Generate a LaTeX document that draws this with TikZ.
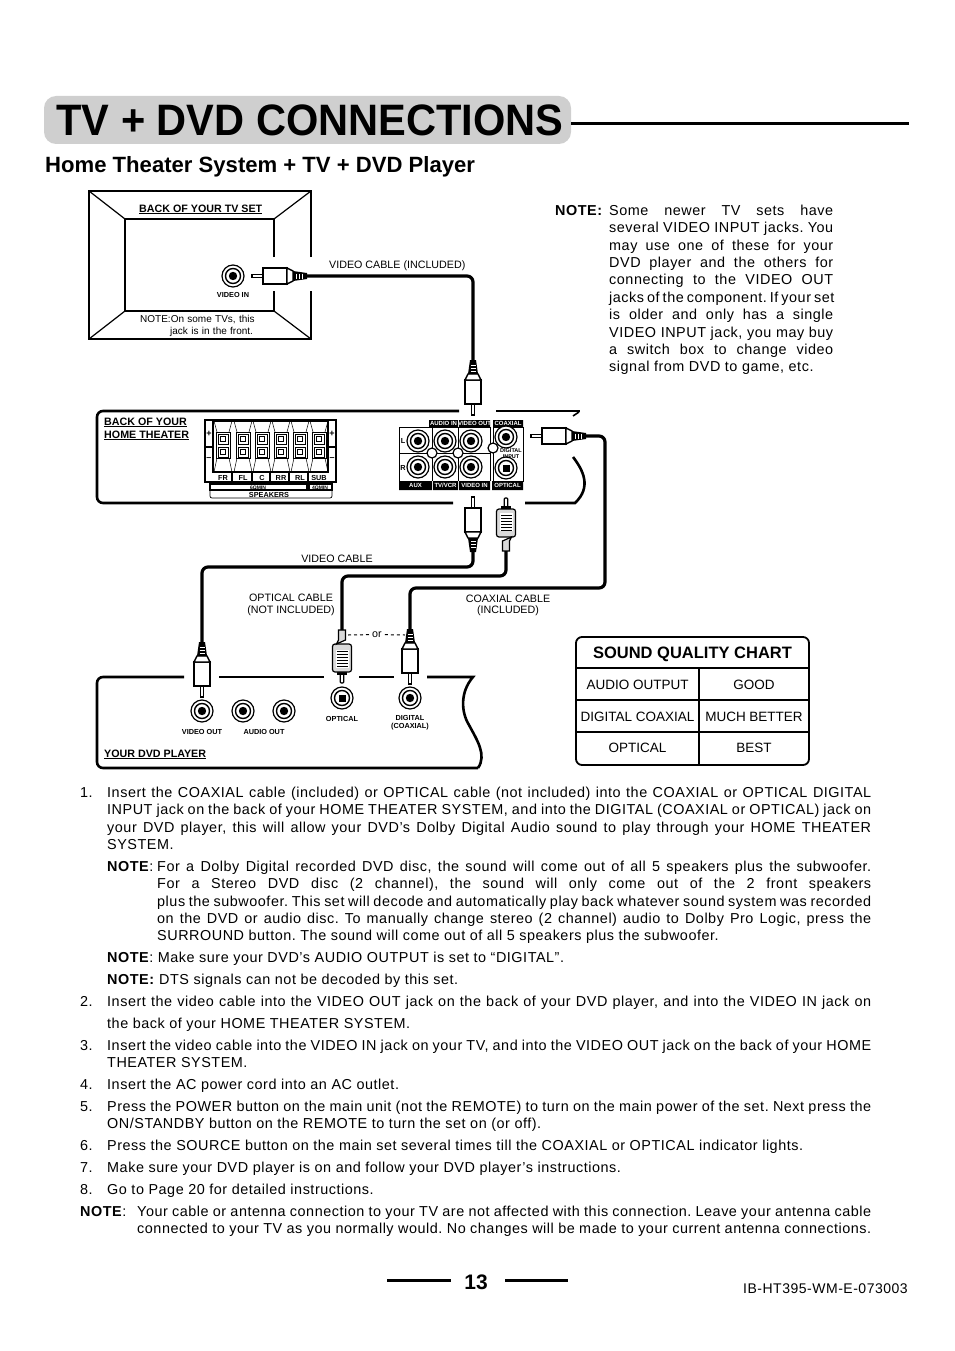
\documentclass[tikz,border=0pt]{standalone}
\usepackage{fontspec}
\setmainfont{Liberation Sans}
\newfontfamily\bodyfont[LetterSpace=3.7]{Liberation Sans}
\definecolor{titlegrey}{HTML}{CFCFCF}
\definecolor{plugshade}{HTML}{D9D9D9}
\tikzset{
  cablewire/.style={line width=3.2pt, rounded corners=6pt},
  panelline/.style={line width=2.6pt, rounded corners=6pt},
  tvline/.style={line width=2.6pt},
  thinline/.style={line width=1.2pt},
  ruleline/.style={line width=3pt},
  cablelabel/.style={font=\fontsize{10.7}{12}\selectfont, inner sep=0pt, align=center},
  tinylabel/.style={font=\fontsize{7.3}{8}\selectfont\bfseries, inner sep=0pt, align=center},
  plainlabel/.style={font=\fontsize{10.7}{12}\selectfont\bfseries, inner sep=0pt, anchor=base west},
  bodytext/.style={font=\fontsize{14.4}{17.4}\bodyfont\frenchspacing, inner sep=0pt, anchor=north west, align=justify, execute at begin node=\strut},
  bodywide/.style={bodytext, font=\fontsize{14.4}{22}\bodyfont\frenchspacing},
  chartcell/.style={font=\fontsize{13.5}{16}\selectfont, inner sep=0pt},
  pics/jackring/.style={code={
    \draw[thinline, fill=white] (0,0) circle (11);
    \draw[line width=1.4pt] (0,0) circle (7.5);
    \fill (0,0) circle (4.2);
  }},
  pics/jacksquare/.style={code={
    \draw[thinline, fill=white] (0,0) circle (11);
    \draw[line width=1.4pt] (0,0) circle (7.5);
    \fill (-3.5,-3.5) rectangle (3.5,3.5);
  }},
  pics/rcaplug/.style={code={
    \draw[line width=1.2pt, fill=white] (0,-1.8) rectangle (11,1.8);
    \draw[line width=1.8pt, fill=white] (11,-8) rectangle (35,8);
    \draw[line width=1.4pt, fill=white] (35,-8) -- (41,-5) -- (41,5) -- (35,8) -- cycle;
    \fill (41,-5) -- (55,-3) -- (55,3) -- (41,5) -- cycle;
    \foreach \hx in {44,47,50}
      \draw[white, line width=.8pt] (\hx,-2.5) -- (\hx,2.5);
    \coordinate (-end) at (55,0);
  }},
  pics/opticplug/.style={code={
    \draw[thinline, fill=white, rounded corners=1pt] (0,-1.8) rectangle (9,1.8);
    \draw[thinline, fill=white] (9,-4.5) rectangle (11,4.5);
    \draw[thinline, fill=plugshade, rounded corners=2.5pt] (11,-9.5) rectangle (39,9.5);
    \fill[white] (15,-6.5) rectangle (33,6.5);
    \foreach \hx in {17,20,23,26,29,32}
      \draw[line width=.9pt] (\hx,-5.5) -- (\hx,5.5);
    \draw[thinline, fill=plugshade] (39,-5.5) -- (43,-3.5) -- (53,-3.5) -- (53,3.5) -- (43,3.5) -- cycle;
    \coordinate (-end) at (53,0);
  }},
}
\begin{document}
\begin{tikzpicture}[x=1pt, y=-1pt]
\useasboundingbox (0,0) rectangle (954,1351);

% --- Heading ---
\node[fill=titlegrey, rounded corners=12pt, minimum width=527pt, minimum height=48pt, inner sep=0pt] (titlebar) at (307.5,120) {};
\node[font=\fontsize{44}{50}\selectfont\bfseries, inner sep=0pt, anchor=base] (titletext) at (310,136) {\scalebox{0.945}[1]{TV + DVD CONNECTIONS}};
\coordinate (titlerule) at (909,124);
\draw[ruleline] (titlebar.east |- titlerule) -- (titlerule);
\node[font=\fontsize{22.1}{26}\selectfont\bfseries, inner sep=0pt, anchor=base west] (subtitle) at (45,172.5) {Home Theater System + TV + DVD Player};

% --- TV set ---
\draw[thinline] (311,257) -- (311,191) -- (89,191) -- (89,339) -- (311,339) -- (311,291);
\draw[tvline] (274,257) -- (274,219) -- (125,219) -- (125,311) -- (274,311) -- (274,291);
\draw[thinline] (89,191) -- (125,219) (311,191) -- (274,219) (89,339) -- (125,311) (311,339) -- (274,311);
\node[plainlabel] (tvback) at (139,212) {\underline{BACK OF YOUR TV SET}};
\pic (tvjack) at (233,276) {jackring};
\node[tinylabel] (tvjacklabel) at (233,295) {VIDEO IN};
\node[cablelabel, anchor=west, text width=135pt, align=left, font=\fontsize{10}{11.5}\selectfont] (tvnote) at (140,326) {NOTE:On some TVs, this\\ \hspace*{30pt}jack is in the front.};
\node[cablelabel, anchor=west] (tvcable) at (329,266) {VIDEO CABLE (INCLUDED)};

% --- Home theater panel ---
\draw[panelline] (453,503) -- (97,503) -- (97,411) -- (459,411);
\draw[panelline, rounded corners=0pt] (496,411) -- (580,411);
\draw[line width=1.6pt] (579,412) -- (573,416);
\draw[panelline, rounded corners=0pt] (573,457) .. controls (583,470) and (592,487) .. (575,503) -- (525,503);
\node[plainlabel] (backone) at (104,425) {\underline{BACK OF YOUR}};
\node[plainlabel] (backtwo) at (104,438) {\underline{HOME THEATER}};

% --- Speaker terminals ---
\draw[line width=1.5pt] (205,420) rectangle (336,482);
\draw[line width=1.8pt] (213,421) rectangle (328,472);
\draw[thinline] (205,447) -- (213,447) (328,447) -- (336,447);
\foreach \sx/\sy/\smark/\sname in {209/434/+/lp,209/459/--/lm,332/434/+/rp,332/459/--/rm}
  \node[tinylabel, font=\fontsize{9}{10}\selectfont\bfseries] (term\sname) at (\sx,\sy) {\smark};
\foreach \cx in {223,243,262,281,300,319} {
  \draw[line width=.5pt] (\cx-9,421) -- (\cx-6,432) (\cx+9,421) -- (\cx+6,432) (\cx-9,472) -- (\cx-6,458) (\cx+9,472) -- (\cx+6,458);
  \draw[line width=1pt] (\cx-7,432) rectangle (\cx+7,458);
  \foreach \ty in {439,452} {
    \draw[line width=1pt] (\cx-5,\ty-5) rectangle (\cx+5,\ty+5);
    \draw[line width=.8pt] (\cx-2.6,\ty-2.6) rectangle (\cx+2.6,\ty+2.6);
  }
}
\foreach \dx in {232,252,270,289,308}
  \draw[thinline] (\dx,472) -- (\dx,482);
\foreach \cx/\clabel in {223/FR,243/FL,262/C,281/RR,300/RL,319/SUB}
  \node[tinylabel] (spk\clabel) at (\cx,477.5) {\clabel};
\draw[thinline] (210,484) rectangle (307,490) (309,484) rectangle (332,490);
\draw[line width=.7pt, rounded corners=2pt] (210,490) -- (210,498) -- (332,498) -- (332,490);
\node[tinylabel, font=\fontsize{5}{6}\selectfont\bfseries] (ohmmain) at (258,487.3) {6ΩMIN};
\node[tinylabel, font=\fontsize{5}{6}\selectfont\bfseries] (ohmsub) at (320,487.3) {4ΩMIN};
\node[tinylabel] (spkname) at (269,494.5) {SPEAKERS};

% --- Input jacks ---
\draw[line width=1pt] (399,481) -- (399,427) -- (490,427) -- (490,481) (399,453) -- (490,453) (432,427) -- (432,481) (458,427) -- (458,481);
\draw[line width=1pt] (493,427) -- (523,427) -- (523,481) -- (493,481) -- cycle;
\fill (429,420) rectangle (458,427) (459,420) rectangle (490,427) (493,420) rectangle (523,427);
\fill (399,481) rectangle (432,490) (433,481) rectangle (458,490) (459,481) rectangle (490,490) (492,481) rectangle (523,490);
\foreach \jx/\jy/\jname in {418/441/a,445/441/b,471/441/c,418/467/d,445/467/e,471/467/f,506/437/g}
  \pic (in\jname) at (\jx,\jy) {jackring};
\pic (inh) at (506,468) {jacksquare};
\foreach \rx/\ry/\rname in {432/453/a,458/453/b,493/448/c}
  \draw[thinline, fill=white] (\rx,\ry) circle (5);
\foreach \tx/\ty/\ttext/\tname in {443.5/423.7/AUDIO IN/a,474.5/423.7/VIDEO OUT/b,508/423.7/COAXIAL/c,415.5/485.7/AUX/d,445.5/485.7/{TV/VCR}/e,474.5/485.7/VIDEO IN/f,507.5/485.7/OPTICAL/g}
  \node[tinylabel, white, font=\fontsize{6}{7}\selectfont\bfseries] (tag\tname) at (\tx,\ty) {\ttext};
\node[tinylabel] (chanl) at (403,441) {L};
\node[tinylabel] (chanr) at (403,468) {R};
\node[tinylabel, font=\fontsize{5.5}{6}\selectfont\bfseries] (diginput) at (511,454) {DIGITAL\\INPUT};

% --- DVD player ---
\draw[panelline] (184,677) -- (97,677) -- (97,768) -- (478,768);
\draw[panelline, rounded corners=0pt] (219,677) -- (324,677) (359,677) -- (394,677);
\draw[panelline, rounded corners=0pt] (427,677) -- (473,677) .. controls (460,692) and (461,712) .. (469,725) .. controls (477,740) and (487,755) .. (478,768);
\foreach \jx/\jname in {202/a,243/b,284/c}
  \pic (out\jname) at (\jx,711) {jackring};
\pic (outopt) at (342,698) {jacksquare};
\pic (outcoax) at (410,698) {jackring};
\node[tinylabel] (dvdvideo) at (202,732) {VIDEO OUT};
\node[tinylabel] (dvdaudio) at (264,732) {AUDIO OUT};
\node[tinylabel] (dvdopt) at (342,719) {OPTICAL};
\node[tinylabel] (dvdcoax) at (410,723) {DIGITAL\\(COAXIAL)};
\node[plainlabel] (dvdname) at (104,757) {\underline{YOUR DVD PLAYER}};

% --- Plugs ---
\pic (tvplug) at (252,276) {rcaplug};
\pic[rotate=90] (topplug) at (473,415) {rcaplug};
\pic (sideplug) at (531,436) {rcaplug};
\pic[rotate=-90] (lowplug) at (473,497) {rcaplug};
\pic[rotate=-90] (fiberplug) at (506,498) {opticplug};
\pic[rotate=90] (videoplug) at (202,697) {rcaplug};
\pic[rotate=90] (dvdfiber) at (342,683) {opticplug};
\pic[rotate=90] (dvdcoaxplug) at (410,684) {rcaplug};

% --- Cables ---
\coordinate (videorun) at (340,567);
\coordinate (fiberrun) at (420,576);
\coordinate (coaxrun) at (500,588);
\coordinate (coaxcorner) at (605,588);
\draw[cablewire] (tvplug-end) -| (topplug-end);
\draw[cablewire] (lowplug-end) |- (videorun) -| (videoplug-end);
\draw[cablewire] (fiberplug-end) |- (fiberrun) -| (dvdfiber-end);
\draw[cablewire] (sideplug-end) -| (coaxcorner) -- (coaxrun) -| (dvdcoaxplug-end);
\node[cablelabel] (videolabel) at (337,558.5) {VIDEO CABLE};
\node[cablelabel] (opticlabel) at (291,604.5) {OPTICAL CABLE\\(NOT INCLUDED)};
\node[cablelabel, font=\fontsize{10.7}{11}\selectfont] (coaxlabel) at (508,605.5) {COAXIAL CABLE\\(INCLUDED)};
\node[cablelabel, fill=white, inner xsep=3pt] (orlabel) at (377,634.5) {or};
\coordinate (dashleft) at (348,635);
\coordinate (dashright) at (405,635);
\draw[line width=1pt, dashed] (dashleft) -- (orlabel);
\draw[line width=1pt, dashed] (orlabel) -- (dashright);

% --- Sound chart ---
\draw[line width=1.8pt, rounded corners=6pt] (576,637) rectangle (809,765);
\draw[thinline] (576,668) -- (809,668) (576,700) -- (809,700) (576,732) -- (809,732) (699,668) -- (699,765);
\node[chartcell, font=\fontsize{16.5}{18}\selectfont\bfseries] (charttitle) at (692.5,654.5) {SOUND QUALITY CHART};
\node[chartcell] (cellaudio) at (637.5,685) {AUDIO OUTPUT};
\node[chartcell] (cellgood) at (754,685) {GOOD};
\node[chartcell] (celldigital) at (637.5,717) {DIGITAL COAXIAL};
\node[chartcell] (cellbetter) at (754,717) {MUCH BETTER};
\node[chartcell] (cellopt) at (637.5,748) {OPTICAL};
\node[chartcell] (cellbest) at (754,748) {BEST};

% --- Side note ---
\node[bodytext, text width=60pt, align=left] (sidetag) at (555,203) {\textbf{NOTE:}};
\node[bodytext, text width=224pt] (sidenote) at (609,203) {Some newer TV sets have\linebreak several VIDEO INPUT jacks. You\linebreak may use one of these for your\linebreak DVD player and the others for\linebreak connecting to the VIDEO OUT\linebreak jacks of the component. If your set\linebreak is older and only has a single\linebreak VIDEO INPUT jack, you may buy\linebreak a switch box to change video\linebreak signal from DVD to game, etc.};

% --- Instructions ---
\node[bodytext, text width=25pt, align=left] (numone) at (80,785) {1.};
\node[bodytext, text width=764pt] (stepone) at (107,785) {Insert the COAXIAL cable (included) or OPTICAL cable (not included) into the COAXIAL or OPTICAL DIGITAL\linebreak INPUT jack on the back of your HOME THEATER SYSTEM, and into the DIGITAL (COAXIAL or OPTICAL) jack on\linebreak your DVD player, this will allow your DVD’s Dolby Digital Audio sound to play through your HOME THEATER\linebreak SYSTEM.};
\node[bodytext, text width=50pt, align=left] (notetagA) at (107,859) {\textbf{NOTE}:};
\node[bodytext, text width=714pt] (noteA) at (157,859) {For a Dolby Digital recorded DVD disc, the sound will come out of all 5 speakers plus the subwoofer.\linebreak For a Stereo DVD disc (2 channel), the sound will only come out of the 2 front speakers\linebreak plus the subwoofer. This set will decode and automatically play back whatever sound system was recorded\linebreak on the DVD or audio disc. To manually change stereo (2 channel) audio to Dolby Pro Logic, press the\linebreak SURROUND button. The sound will come out of all 5 speakers plus the subwoofer.};
\node[bodytext, text width=764pt] (noteB) at (107,950) {\textbf{NOTE}: Make sure your DVD’s AUDIO OUTPUT is set to “DIGITAL”.};
\node[bodytext, text width=764pt] (noteC) at (107,972) {\textbf{NOTE:} DTS signals can not be decoded by this set.};
\node[bodytext, text width=25pt, align=left] (numtwo) at (80,994) {2.};
\node[bodywide, text width=764pt] (steptwo) at (107,990.8) {Insert the video cable into the VIDEO OUT jack on the back of your DVD player, and into the VIDEO IN jack on\linebreak the back of your HOME THEATER SYSTEM.};
\node[bodytext, text width=25pt, align=left] (numthree) at (80,1038) {3.};
\node[bodytext, text width=764pt] (stepthree) at (107,1038) {Insert the video cable into the VIDEO IN jack on your TV, and into the VIDEO OUT jack on the back of your HOME\linebreak THEATER SYSTEM.};
\node[bodytext, text width=25pt, align=left] (numfour) at (80,1077) {4.};
\node[bodytext, text width=764pt] (stepfour) at (107,1077) {Insert the AC power cord into an AC outlet.};
\node[bodytext, text width=25pt, align=left] (numfive) at (80,1099) {5.};
\node[bodytext, text width=764pt] (stepfive) at (107,1099) {Press the POWER button on the main unit (not the REMOTE) to turn on the main power of the set. Next press the\linebreak ON/STANDBY button on the REMOTE to turn the set on (or off).};
\node[bodytext, text width=25pt, align=left] (numsix) at (80,1138) {6.};
\node[bodytext, text width=764pt] (stepsix) at (107,1138) {Press the SOURCE button on the main set several times till the COAXIAL or OPTICAL indicator lights.};
\node[bodytext, text width=25pt, align=left] (numseven) at (80,1160) {7.};
\node[bodytext, text width=764pt] (stepseven) at (107,1160) {Make sure your DVD player is on and follow your DVD player’s instructions.};
\node[bodytext, text width=25pt, align=left] (numeight) at (80,1182) {8.};
\node[bodytext, text width=764pt] (stepeight) at (107,1182) {Go to Page 20 for detailed instructions.};
\node[bodytext, text width=57pt, align=left] (notetagD) at (80,1204) {\textbf{NOTE}:};
\node[bodytext, text width=734pt] (noteD) at (137,1204) {Your cable or antenna connection to your TV are not affected with this connection. Leave your antenna cable\linebreak connected to your TV as you normally would. No changes will be made to your current antenna connections.};

% --- Footer ---
\node[font=\fontsize{21}{24}\selectfont\bfseries, inner sep=0pt] (pagenum) at (476,1282) {13};
\coordinate (ruleA) at (387,1280);
\coordinate (ruleB) at (451,1280);
\coordinate (ruleC) at (505,1280);
\coordinate (ruleD) at (568,1280);
\draw[ruleline] (ruleA) -- (ruleB);
\draw[ruleline] (ruleC) -- (ruleD);
\node[font=\fontsize{14}{15}\bodyfont, inner sep=0pt, anchor=east] (partcode) at (908,1289) {IB-HT395-WM-E-073003};
\end{tikzpicture}
\end{document}
